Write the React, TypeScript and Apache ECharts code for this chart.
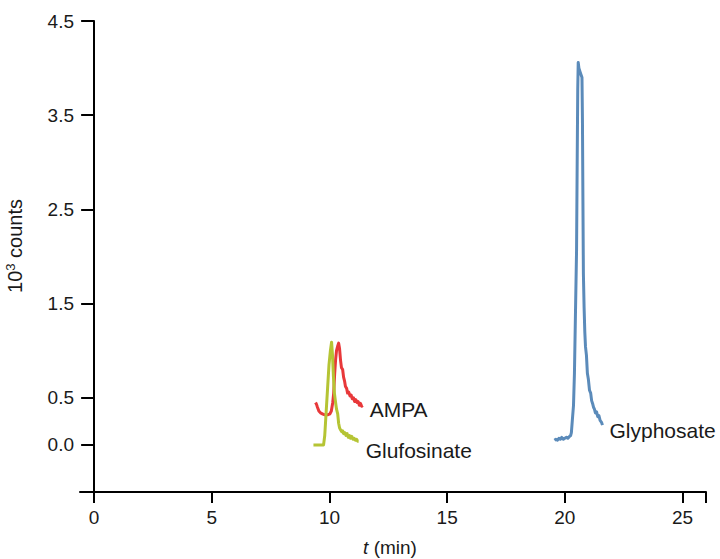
import React, { useEffect, useRef } from "react";
import * as echarts from "echarts";

const xTickValues = [0, 5, 10, 15, 20, 25, 26];
const xLabelValues = [0, 5, 10, 15, 20, 25];
const yTickValues = [0, 0.5, 1.5, 2.5, 3.5, 4.5];

const gluX = [9.32, 9.5, 9.75, 9.8, 9.86, 9.92, 9.98, 10.04, 10.09, 10.13, 10.17, 10.21, 10.26, 10.3, 10.35, 10.39, 10.43, 10.47, 10.52, 10.56, 10.6, 10.65, 10.7, 10.75, 10.8, 10.85, 10.9, 10.95, 11.0, 11.05, 11.1, 11.15, 11.2, 11.24];
const gluY = [0.0, 0.0, 0.0, 0.1, 0.35, 0.6, 0.85, 1.0, 1.09, 0.95, 0.72, 0.55, 0.45, 0.38, 0.33, 0.23, 0.18, 0.16, 0.14, 0.15, 0.12, 0.13, 0.1, 0.12, 0.08, 0.1, 0.07, 0.09, 0.06, 0.07, 0.05, 0.06, 0.04, 0.04];

const ampaX = [9.41, 9.45, 9.49, 9.55, 9.62, 9.7, 9.78, 9.86, 9.94, 10.02, 10.08, 10.14, 10.18, 10.22, 10.26, 10.3, 10.35, 10.39, 10.43, 10.47, 10.51, 10.56, 10.6, 10.64, 10.68, 10.73, 10.77, 10.82, 10.87, 10.92, 10.97, 11.02, 11.07, 11.12, 11.17, 11.22, 11.27, 11.32, 11.37, 11.41];
const ampaY = [0.45, 0.43, 0.4, 0.36, 0.34, 0.33, 0.32, 0.32, 0.32, 0.33, 0.36, 0.45, 0.55, 0.75, 0.9, 1.0, 1.05, 1.08, 1.02, 0.9, 0.82, 0.8, 0.72, 0.68, 0.62, 0.6, 0.55, 0.56, 0.52, 0.53, 0.49, 0.5, 0.46, 0.48, 0.45, 0.46, 0.42, 0.44, 0.41, 0.42];

const glyX = [19.56, 19.62, 19.69, 19.75, 19.81, 19.87, 19.94, 20.0, 20.07, 20.13, 20.2, 20.25, 20.28, 20.32, 20.37, 20.41, 20.45, 20.5, 20.53, 20.55, 20.57, 20.6, 20.65, 20.69, 20.73, 20.75, 20.77, 20.79, 20.82, 20.85, 20.88, 20.92, 20.96, 21.0, 21.05, 21.1, 21.14, 21.18, 21.22, 21.26, 21.3, 21.35, 21.4, 21.45, 21.5, 21.56, 21.6];
const glyY = [0.05, 0.06, 0.05, 0.07, 0.06, 0.08, 0.06, 0.07, 0.08, 0.07, 0.09, 0.1, 0.13, 0.26, 0.42, 0.76, 1.35, 2.07, 3.13, 3.77, 4.06, 4.0, 3.96, 3.93, 3.9, 3.45, 2.6, 1.82, 1.46, 1.2, 1.04, 0.95, 0.76, 0.7, 0.58, 0.55, 0.47, 0.44, 0.4, 0.38, 0.34, 0.35, 0.3, 0.31, 0.26, 0.24, 0.21];

const seriesNames = ["AMPA", "Glufosinate", "Glyphosate"];
const seriesColors = ["#e8383a", "#b5c434", "#5b8bba"];

const zip = (xs: number[], ys: number[]) => xs.map((x, i) => [x, ys[i]]);

const FONT = "Liberation Sans, Arial, Helvetica, sans-serif";
const INK = "#1a1a1a";

export default function App() {
  const ref = useRef<HTMLDivElement>(null);
  useEffect(() => {
    if (!ref.current) return;
    const chart = echarts.init(ref.current, undefined, { renderer: "svg" });
    const mk = (idx: number, xs: number[], ys: number[], offset: number[]) => ({
      name: seriesNames[idx],
      type: "line",
      data: zip(xs, ys),
      showSymbol: false,
      symbol: "none",
      smooth: false,
      lineStyle: { color: seriesColors[idx], width: 3, join: "round" },
      itemStyle: { color: seriesColors[idx] },
      endLabel: {
        show: true,
        formatter: seriesNames[idx],
        color: INK,
        fontSize: 21,
        fontFamily: FONT,
        distance: 5,
        offset,
      },
    });
    chart.setOption({
      animation: false,
      backgroundColor: "#ffffff",
      grid: { left: 80, right: 14, top: 21, bottom: 67, containLabel: false, outerBoundsMode: "none" },
      xAxis: {
        type: "value",
        min: -0.6,
        max: 26,
        axisLine: { onZero: false, lineStyle: { color: "#000", width: 2 } },
        axisTick: { show: true, length: 11, customValues: xTickValues, lineStyle: { color: "#000", width: 2 } },
        axisLabel: {
          customValues: xLabelValues,
          color: INK,
          fontSize: 19,
          fontFamily: FONT,
          margin: 16,
        },
        splitLine: { show: false },
      },
      yAxis: {
        type: "value",
        min: -0.5,
        max: 4.5,
        axisLine: { show: true, onZero: true, lineStyle: { color: "#000", width: 2 } },
        axisTick: { show: true, length: 13, customValues: yTickValues, lineStyle: { color: "#000", width: 2 } },
        axisLabel: {
          customValues: yTickValues,
          formatter: (v: number) => v.toFixed(1),
          color: INK,
          fontSize: 19,
          fontFamily: FONT,
          margin: 6,
        },
        splitLine: { show: false },
      },
      graphic: [
        {
          type: "text",
          x: 390,
          y: 547,
          style: {
            text: "{i|t}{n| (min)}",
            align: "center",
            verticalAlign: "middle",
            fill: INK,
            fontSize: 19,
            fontFamily: FONT,
            rich: {
              i: { fontStyle: "italic", fontSize: 19, fontFamily: FONT, fill: INK, color: INK },
              n: { fontSize: 19, fontFamily: FONT, fill: INK, color: INK },
            },
          },
        },
        {
          type: "text",
          x: 15,
          y: 246,
          rotation: Math.PI / 2,
          style: {
            text: "{n|10}{s|3}{n| counts}",
            align: "center",
            verticalAlign: "middle",
            fill: INK,
            fontSize: 20,
            fontFamily: FONT,
            rich: {
              n: { fontSize: 20, fontFamily: FONT, fill: INK, color: INK, lineHeight: 22 },
              s: { fontSize: 13, fontFamily: FONT, fill: INK, color: INK, verticalAlign: "top", lineHeight: 22 },
            },
          },
        },
      ],
      series: [
        mk(0, ampaX, ampaY, [2, 4]),
        mk(1, gluX, gluY, [2, 9]),
        mk(2, glyX, glyY, [2, 5]),
      ],
    });
    return () => chart.dispose();
  }, []);
  return (
    <div
      ref={ref}
      style={{ position: "fixed", left: 0, top: 0, width: 720, height: 559, background: "#fff" }}
    />
  );
}
